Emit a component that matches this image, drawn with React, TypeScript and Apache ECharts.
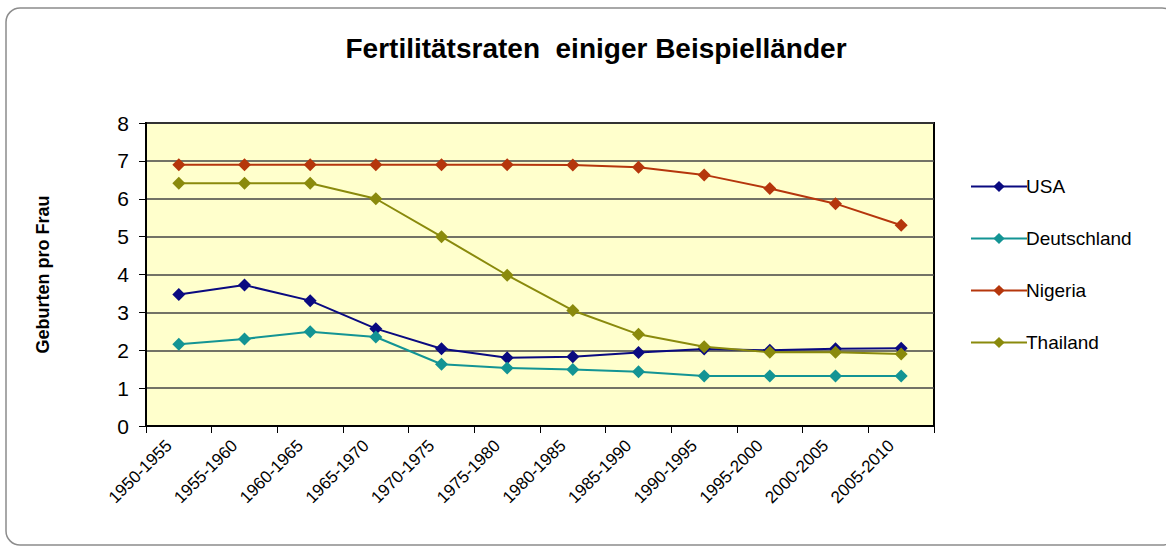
import React, { useEffect, useRef } from "react";
import * as echarts from "echarts";

const categories = [
  "1950-1955", "1955-1960", "1960-1965", "1965-1970", "1970-1975", "1975-1980",
  "1980-1985", "1985-1990", "1990-1995", "1995-2000", "2000-2005", "2005-2010",
];
const usa = [3.47, 3.72, 3.31, 2.57, 2.04, 1.80, 1.83, 1.94, 2.03, 2.00, 2.04, 2.05];
const deutschland = [2.16, 2.30, 2.49, 2.35, 1.63, 1.53, 1.49, 1.43, 1.32, 1.32, 1.32, 1.32];
const nigeria = [6.9, 6.9, 6.9, 6.9, 6.9, 6.9, 6.89, 6.83, 6.63, 6.27, 5.87, 5.30];
const thailand = [6.41, 6.41, 6.41, 6.0, 5.0, 3.98, 3.05, 2.42, 2.09, 1.95, 1.95, 1.90];
const yTicks = { min: 0, max: 8, interval: 1 };

const FONT = "Liberation Sans, Arial, sans-serif";

export default function App() {
  const ref = useRef<HTMLDivElement>(null);
  useEffect(() => {
    const chart = echarts.init(ref.current!, null, { renderer: "svg" });
    const mk = (name: string, data: number[], color: string) => ({
      name,
      type: "line",
      data,
      symbol: "diamond",
      symbolSize: 13,
      lineStyle: { color, width: 2 },
      itemStyle: { color },
    });
    chart.setOption({
      animation: false,
      backgroundColor: "#ffffff",
      textStyle: { fontFamily: FONT },
      title: {
        text: "Fertilitätsraten  einiger Beispielländer",
        left: 591,
        top: 29,
        textAlign: "center",
        textStyle: { fontFamily: FONT, fontSize: 28, fontWeight: "bold", color: "#000" },
      },
      graphic: [
        {
          type: "rect",
          shape: { x: 6, y: 8, width: 1170, height: 537, r: 14 },
          style: { fill: "none", stroke: "#8c8c8c", lineWidth: 1.5 },
          z: -10,
        },
      ],
      legend: {
        orient: "vertical",
        left: 965,
        top: 172,
        itemGap: 33,
        itemWidth: 56,
        itemHeight: 14,
        textStyle: { fontFamily: FONT, fontSize: 19, color: "#000", padding: [0, 0, 0, -6] },
        data: ["USA", "Deutschland", "Nigeria", "Thailand"],
      },
      grid: {
        left: 146,
        right: 232,
        top: 123,
        bottom: 125,
        show: true,
        backgroundColor: "#ffffcc",
        borderColor: "#000",
        borderWidth: 2,
      },
      xAxis: {
        type: "category",
        data: categories,
        boundaryGap: true,
        axisLine: { lineStyle: { color: "#000", width: 2 } },
        axisTick: { show: true, length: 7, lineStyle: { color: "#000" } },
        axisLabel: {
          rotate: 45,
          margin: 7,
          padding: [0, 14, 0, 0],
          fontFamily: FONT,
          fontSize: 17,
          color: "#000",
          interval: 0,
        },
      },
      yAxis: {
        type: "value",
        min: yTicks.min,
        max: yTicks.max,
        interval: yTicks.interval,
        name: "Geburten pro Frau",
        nameLocation: "middle",
        nameGap: 94,
        nameRotate: 90,
        nameTextStyle: { fontFamily: FONT, fontSize: 18, fontWeight: "bold", color: "#000" },
        axisLine: { show: true, lineStyle: { color: "#000", width: 2 } },
        axisTick: { show: true, length: 7, lineStyle: { color: "#000" } },
        axisLabel: { fontFamily: FONT, fontSize: 21, color: "#000", margin: 17 },
        splitLine: { lineStyle: { color: "#444", width: 1.5 } },
      },
      series: [
        mk("USA", usa, "#0a0a80"),
        mk("Deutschland", deutschland, "#139494"),
        mk("Nigeria", nigeria, "#b5360c"),
        mk("Thailand", thailand, "#8a8a0c"),
      ],
    });
    return () => chart.dispose();
  }, []);
  return (
    <div
      ref={ref}
      style={{ position: "fixed", left: 0, top: 0, width: 1166, height: 551 }}
    />
  );
}
